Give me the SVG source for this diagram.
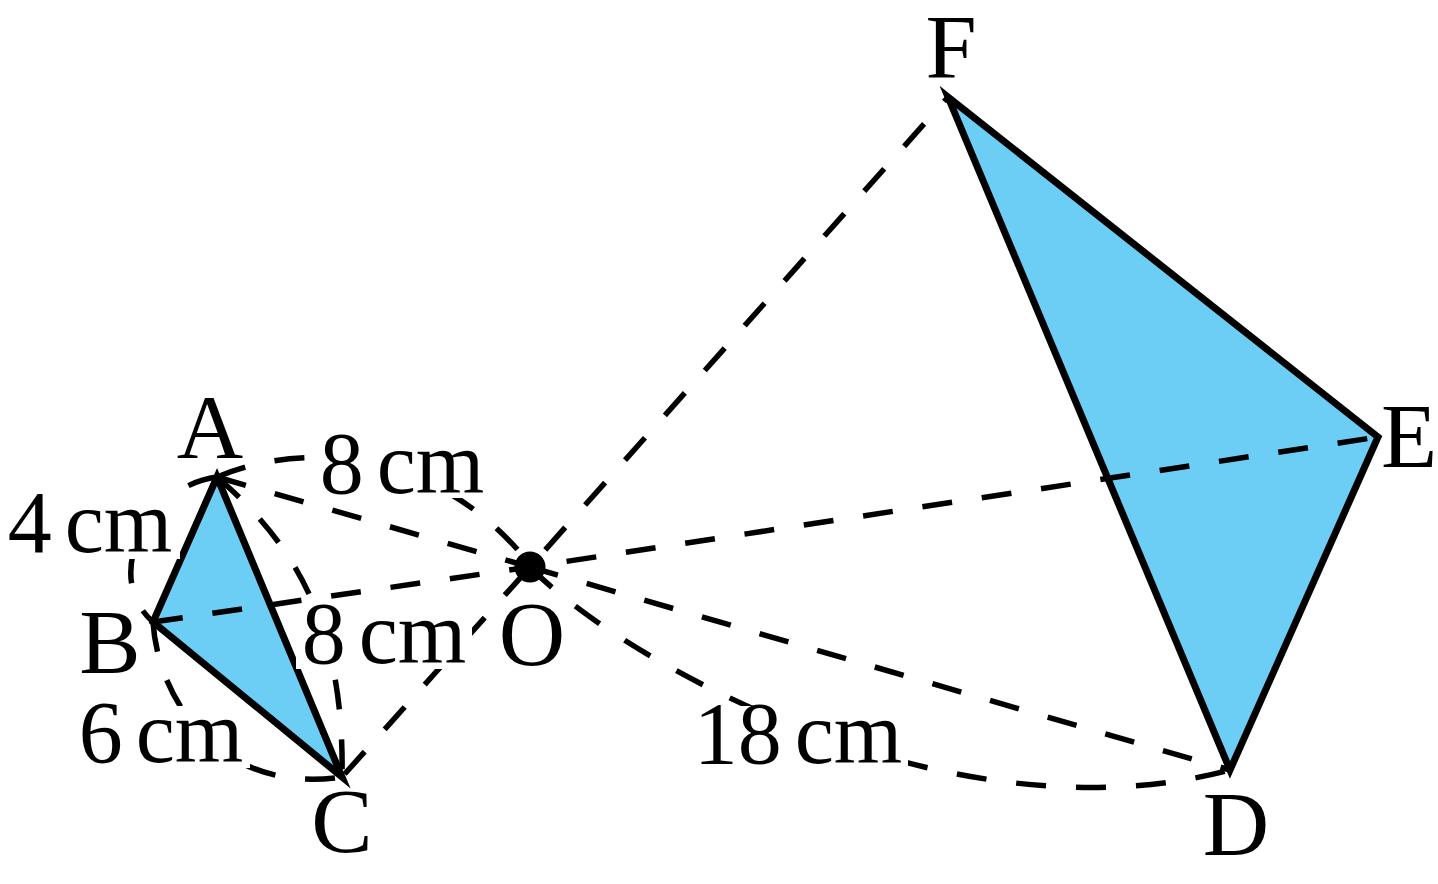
<svg xmlns="http://www.w3.org/2000/svg" width="1438" height="884" viewBox="0 0 1438 884">
<style>
.tri{fill:#6ccdf5;stroke:#000;stroke-width:7;stroke-linejoin:miter;stroke-miterlimit:10}
.dash{fill:none;stroke:#000;stroke-width:5.5;stroke-dasharray:30 30}
.lbl{font-family:"Liberation Serif","Times New Roman",serif;font-size:92px;fill:#000;text-anchor:middle}
.num{font-family:"Liberation Serif","Times New Roman",serif;font-size:88px;word-spacing:-9px;fill:#000;text-anchor:middle}
.bg{fill:#fff}
</style>
<rect width="1438" height="884" fill="#fff"/>
<g id="triangle-ABC"><path class="tri" d="M217,477 L153,622 L342,777 Z"/></g>
<g id="triangle-DEF"><path class="tri" d="M948,97 L1378,437 L1230,770 Z"/></g>
<g id="connectors">
<path class="dash" d="M217,477 L530,567"/>
<path class="dash" d="M153,622 L530,567"/>
<path class="dash" d="M342,777 L530,567" stroke-dashoffset="-4"/>
<path class="dash" d="M530,567 L948,97" stroke-dashoffset="37"/>
<path class="dash" d="M530,567 L1378,437" stroke-dashoffset="23"/>
<path class="dash" d="M530,567 L1230,770" stroke-dashoffset="1"/>
<path class="dash" d="M217,477 C290,445 430,440 528,562"/>
<path class="dash" d="M217,477 C150,485 100,575 153,622"/>
<path class="dash" d="M153,622 C158,700 220,795 342,777"/>
<path class="dash" d="M217,477 C290,540 345,620 342,777"/>
<path class="dash" d="M530,567 C620,660 950,845 1230,770"/>
</g>
<g id="node-O"><circle cx="530" cy="567" r="15.5" fill="#000"/><text class="lbl" x="532" y="665">O</text></g>
<g id="label-A"><text class="lbl" x="210" y="458">A</text></g>
<g id="label-B"><text class="lbl" x="110" y="673">B</text></g>
<g id="label-C"><text class="lbl" x="342" y="852">C</text></g>
<g id="label-D"><text class="lbl" x="1236" y="855">D</text></g>
<g id="label-E"><text class="lbl" x="1409" y="467">E</text></g>
<g id="label-F"><text class="lbl" x="951" y="78">F</text></g>
<g id="dim-OA"><rect class="bg" x="312" y="438" width="180" height="60"/><text class="num" x="402" y="493">8 cm</text></g>
<g id="dim-AB"><rect class="bg" x="0" y="497" width="180" height="62"/><text class="num" x="90" y="552">4 cm</text></g>
<g id="dim-AC"><rect class="bg" x="296" y="607" width="176" height="62"/><text class="num" x="384" y="663">8 cm</text></g>
<g id="dim-BC"><rect class="bg" x="72" y="706" width="178" height="62"/><text class="num" x="161" y="762">6 cm</text></g>
<g id="dim-OD"><rect class="bg" x="687" y="706" width="221" height="63"/><text class="num" x="798" y="763">18 cm</text></g>
</svg>
